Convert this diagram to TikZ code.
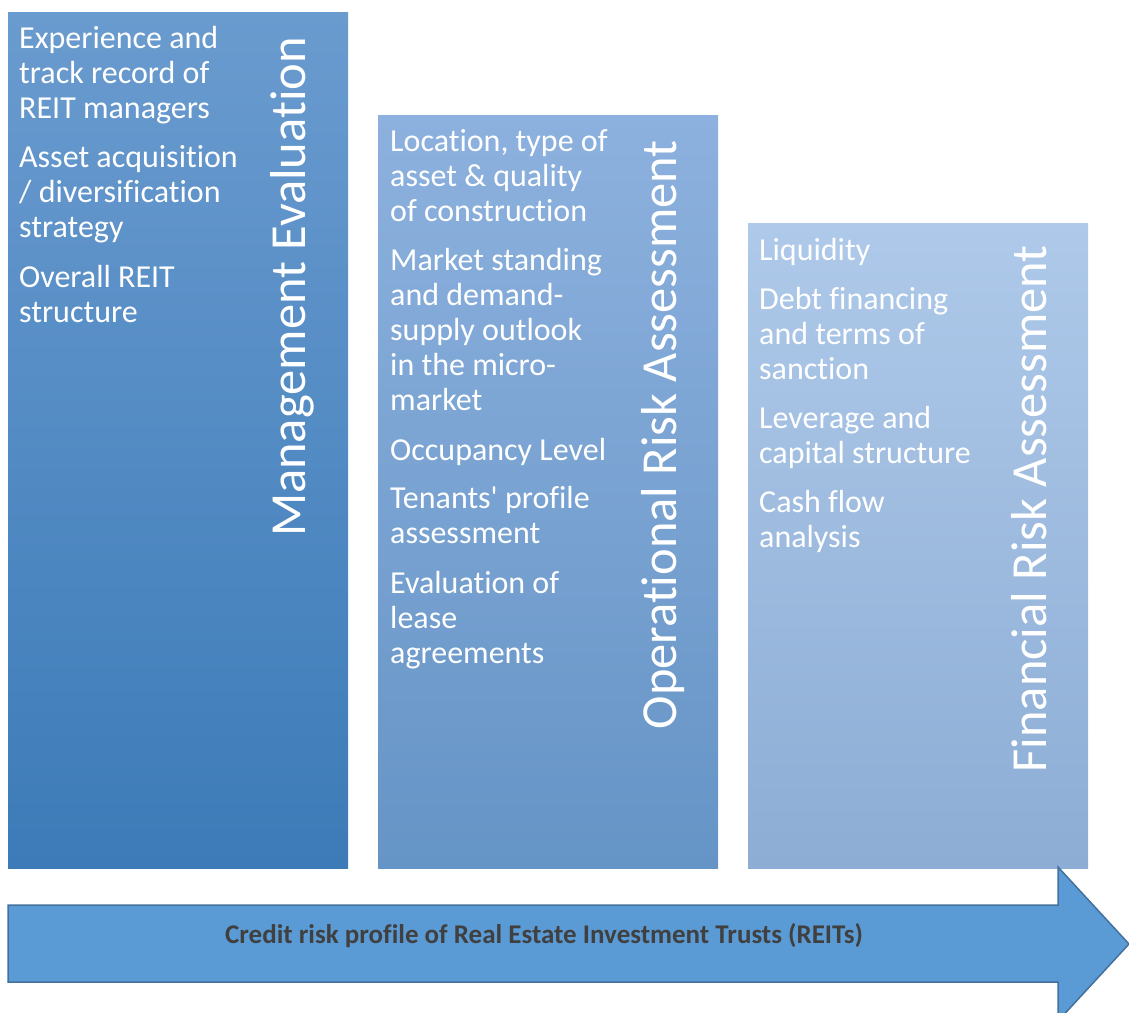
\documentclass[tikz,border=0pt]{standalone}
\usepackage{fontspec}
\setmainfont[Ligatures={TeX,NoCommon}]{Carlito}
\usepackage{xcolor}
\usetikzlibrary{shapes.geometric, positioning, calc}

\definecolor{mgmtTop}{HTML}{6A9BCF}
\definecolor{mgmtBottom}{HTML}{3C7BB8}
\definecolor{opTop}{HTML}{8DB1DE}
\definecolor{opBottom}{HTML}{6594C6}
\definecolor{finTop}{HTML}{AEC9E9}
\definecolor{finBottom}{HTML}{8DADD5}
\definecolor{arrowFill}{HTML}{5B9BD5}
\definecolor{arrowLine}{HTML}{41719C}
\definecolor{labelGray}{HTML}{404040}

\tikzstyle{column} = [rectangle, draw=none, inner sep=0pt, minimum width=340pt, anchor=north west]
% anchored at the baseline of the last line
\tikzstyle{point} = [anchor=base west, align=left, inner sep=0pt, text=white, font=\fontsize{32}{35}\selectfont]
\tikzstyle{heading} = [rotate=90, anchor=base east, inner sep=0pt, text=white, font=\fontsize{50.5}{60}\selectfont]
\tikzstyle{bigarrow} = [fill=arrowFill, draw=arrowLine, line width=1.5pt, line join=miter]

\begin{document}
\begin{tikzpicture}[x=1pt, y=-1pt]
    \useasboundingbox (0,0) rectangle (1129,1012);

    % Columns
    \node[column, minimum height=856pt, top color=mgmtTop, bottom color=mgmtBottom] (mgmt) at (8,12) {};
    \node[column, minimum height=753pt, top color=opTop, bottom color=opBottom] (oper) at (378,115) {};
    \node[column, minimum height=645pt, top color=finTop, bottom color=finBottom] (fin) at (748,223) {};

    % Headings
    \node[heading] (mgmtTitle) at (305,37) {Management Evaluation};
    \node[heading] (operTitle) at (676,140) {Operational Risk Assessment};
    \node[heading] (finTitle) at (1046,245) {Financial Risk Assessment};

    % Management points
    \node[point] (mgmtA) at (19,118) {Experience and\\track record of\\REIT managers};
    \node[point] (mgmtB) at (19,237) {Asset acquisition\\/ diversification\\strategy};
    \node[point] (mgmtC) at (19,322) {Overall REIT\\structure};

    % Operational points
    \node[point] (operA) at (390,221) {Location, type of\\asset \& quality\\of construction};
    \node[point] (operB) at (390,410) {Market standing\\and demand-\\supply outlook\\in the micro-\\market};
    \node[point] (operC) at (390,460) {Occupancy Level};
    \node[point] (operD) at (390,543) {Tenants\textquotesingle{} profile\\assessment};
    \node[point] (operE) at (390,663) {Evaluation of\\lease\\agreements};

    % Financial points
    \node[point] (finA) at (759,260) {Liquidity};
    \node[point] (finB) at (759,379) {Debt financing\\and terms of\\sanction};
    \node[point] (finC) at (759,463) {Leverage and\\capital structure};
    \node[point] (finD) at (759,547) {Cash flow\\analysis};

    % Arrow
    \draw[bigarrow] (8,905) -- (1058,905) -- (1058,867) -- (1129,944)
        -- (1058,1021) -- (1058,982) -- (8,982) -- cycle;
    \node[anchor=base, inner sep=0pt, text=labelGray, font=\fontsize{27}{32}\selectfont\bfseries] (profile) at (544,943)
        {Credit risk profile of Real Estate Investment Trusts (REITs)};

\end{tikzpicture}
\end{document}
